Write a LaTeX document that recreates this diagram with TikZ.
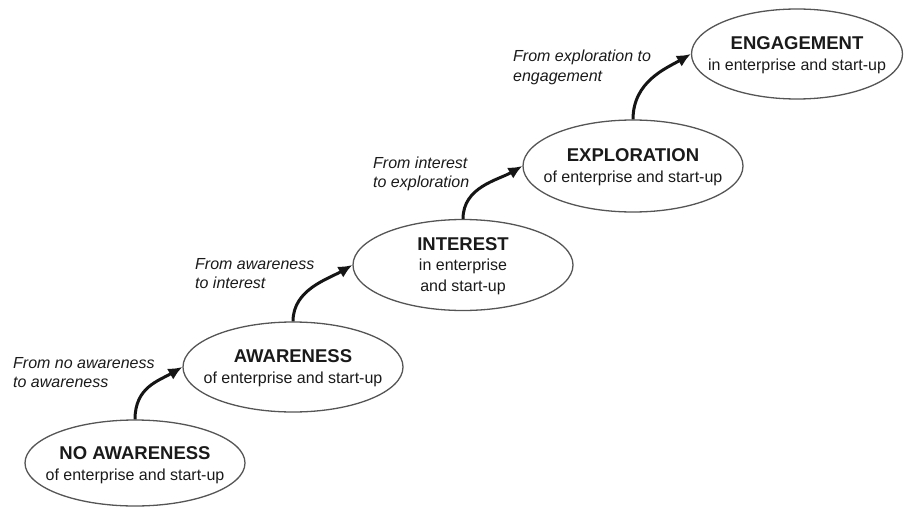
\documentclass[tikz,border=0pt]{standalone}
\usepackage{fontspec}
\setmainfont{Liberation Sans}
\usetikzlibrary{shapes.geometric,arrows.meta}
\definecolor{ringgray}{HTML}{555555}
\definecolor{inkgray}{HTML}{1A1A1A}
\definecolor{arrowink}{HTML}{151515}
\begin{document}
\begin{tikzpicture}[x=1pt,y=-1pt,
  stage/.style={ellipse,draw=ringgray,line width=1.3pt,inner sep=0pt},
  stagetext/.style={align=center,text=inkgray,inner sep=0pt,
    font=\fontsize{16}{20.5}\selectfont},
  move/.style={-{Latex[length=14pt,width=12.5pt]},line width=3pt,draw=arrowink},
  movelabel/.style={anchor=base west,align=left,inner sep=0pt,text=inkgray,
    font=\fontsize{16}{19.5}\selectfont\itshape}]
\newcommand{\stagetitle}[1]{{\fontsize{18.5}{20.5}\selectfont\bfseries #1}}

% canvas
\useasboundingbox (0,0) rectangle (904,508);

% the five stages
\node[stage,minimum width=220pt,minimum height=86pt] (n1) at (135,463) {};
\node[stage,minimum width=220pt,minimum height=90pt] (n2) at (293,367) {};
\node[stage,minimum width=220pt,minimum height=91pt] (n3) at (463,265) {};
\node[stage,minimum width=220pt,minimum height=92pt] (n4) at (633,166) {};
\node[stage,minimum width=211pt,minimum height=90pt] (n5) at (797,54) {};

\node[stagetext] (t1) at ([yshift=-2pt]n1.center) {\stagetitle{NO AWARENESS}\\of enterprise and start-up};
\node[stagetext] (t2) at ([yshift=-1pt]n2.center) {\stagetitle{AWARENESS}\\of enterprise and start-up};
\node[stagetext] (t3) at ([yshift=-1pt]n3.center) {\stagetitle{INTEREST}\\in enterprise\\and start-up};
\node[stagetext] (t4) at ([yshift=-1pt]n4.center) {\stagetitle{EXPLORATION}\\of enterprise and start-up};
\node[stagetext] (t5) at ([yshift=-1pt]n5.center) {\stagetitle{ENGAGEMENT}\\in enterprise and start-up};

% transitions between stages
\draw[move] (n1.north) .. controls +(0,-32) and +(-24,14) .. (n2.west);
\draw[move] (n2.north) .. controls +(0,-32) and +(-24,14) .. (n3.west);
\draw[move] (n3.north) .. controls +(0,-32) and +(-24,14) .. (n4.west);
\draw[move] (n4.north) .. controls +(0,-38) and +(-24,14) .. (n5.west);

% transition labels (anchored on the baseline of the second line)
\node[movelabel] (l1) at (13,387.5) {From no awareness\\to awareness};
\node[movelabel] (l2) at (195,288.5) {From awareness\\to interest};
\node[movelabel] (l3) at (373,187.5) {From interest\\to exploration};
\node[movelabel] (l4) at (513,81.5) {From exploration to\\engagement};
\end{tikzpicture}
\end{document}
